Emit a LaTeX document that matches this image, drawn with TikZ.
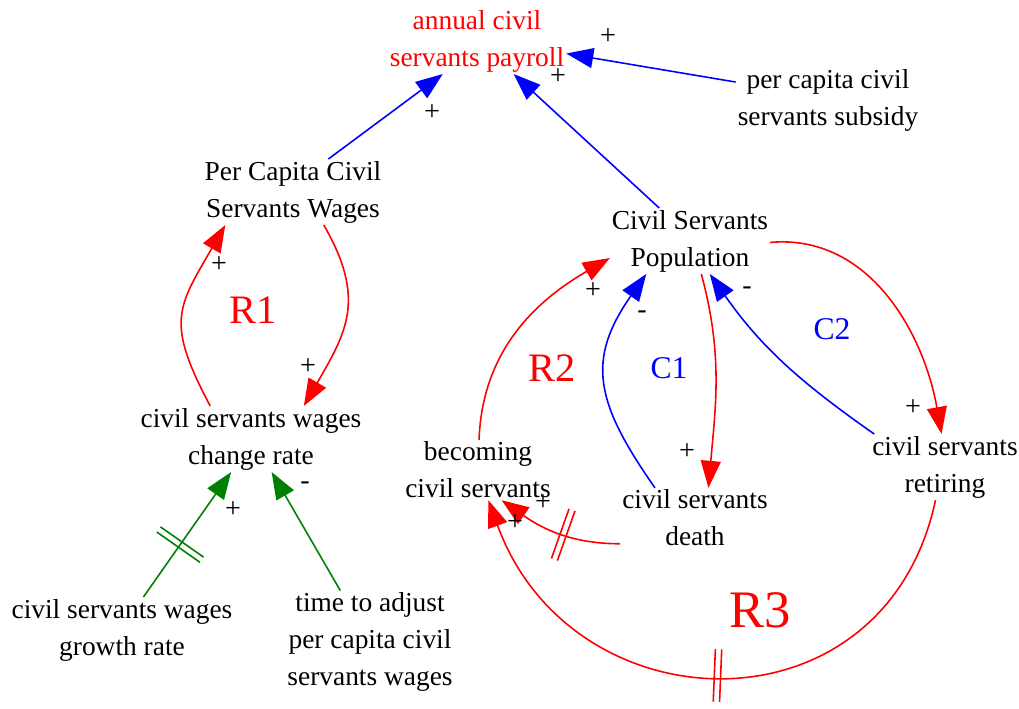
\documentclass[tikz,border=0pt]{standalone}
\usepackage{fontspec}
\setmainfont{Liberation Serif}
\usetikzlibrary{arrows.meta, decorations.markings}

\begin{document}
\begin{tikzpicture}[
    x=0.02cm, y=0.02cm,
    var/.style={align=center, inner sep=1pt, font=\fontsize{15.6}{21}\selectfont},
    sgn/.style={inner sep=0pt, font=\fontsize{16}{16}\selectfont},
    lbl/.style={inner sep=0pt, font=\fontsize{23}{23}\selectfont},
    link/.style={-{Triangle[length=0.54cm, width=0.40cm]}, line width=0.9pt},
    delay/.style={postaction={decorate, decoration={markings,
        mark=at position #1 with {\draw[-, line width=0.9pt] (-1.8pt,-15pt) -- (-1.8pt,15pt)
          (1.8pt,-15pt) -- (1.8pt,15pt);}}}}
]
\useasboundingbox (0,0) rectangle (1019,-708);

% variables
\node[var, red] (pay) at (477,-41) {annual civil\\servants payroll};
\node[var] (pcw) at (293,-192) {Per Capita Civil\\Servants Wages};
\node[var] (sub) at (828,-100) {per capita civil\\servants subsidy};
\node[var] (pop) at (690,-241) {Civil Servants\\Population};
\node[var] (chg) at (251,-439) {civil servants wages\\change rate};
\node[var] (grw) at (122,-630) {civil servants wages\\growth rate};
\node[var] (tim) at (370,-642) {time to adjust\\per capita civil\\servants wages};
\node[var] (bec) at (478,-470) {becoming\\civil servants};
\node[var] (dth) at (695,-518) {civil servants\\death};
\node[var] (ret) at (945,-467) {civil servants\\retiring};

% links
\draw[link, blue] (pcw.43) -- (pay.224);
\draw[link, blue] (pop.133) -- (pay.318);
\draw[link, blue] (sub.169) -- (pay.352);
\draw[link, red] (chg.141) to[out=118, in=240, looseness=1.35] (pcw.206);
\draw[link, red] (pcw.313) to[out=300, in=60, looseness=1.2] (chg.32);
\draw[link, green!50!black, delay=0.42] (grw.57) -- (chg.239);
\draw[link, green!50!black] (tim.120) -- (chg.302);
\draw[link, red] (bec.88) to[out=88, in=210] (pop.192);
\draw[link, blue] (dth.143) to[out=125, in=235, looseness=1.25] (pop.217);
\draw[link, red] (pop.289) to[out=285, in=85] (dth.66);
\draw[link, blue] (ret.155) to[out=145, in=-55] (pop.301);
\draw[link, red] (pop.359) to[out=5, in=100] (ret.96);
\draw[link, red, delay=0.45] (dth.199) to[out=180, in=-35] (bec.308);
\draw[link, red, delay=0.5] (ret.254) to[out=258, in=290, looseness=1.4] (bec.289);

% polarities
\node[sgn] (s1) at (432,-113) {+};
\node[sgn] (s2) at (558,-77) {+};
\node[sgn] (s3) at (608,-37) {+};
\node[sgn] (s4) at (219,-265) {+};
\node[sgn] (s5) at (308,-367) {+};
\node[sgn] (s6) at (233,-510) {+};
\node[sgn] (s7) at (305,-486) {-};
\node[sgn] (s8) at (593,-291) {+};
\node[sgn] (s9) at (642,-315) {-};
\node[sgn] (s10) at (747,-291) {-};
\node[sgn] (s11) at (687,-452) {+};
\node[sgn] (s12) at (543,-503) {+};
\node[sgn] (s13) at (515,-523) {+};
\node[sgn] (s14) at (913,-408) {+};

% loops
\node[lbl, red] (r1) at (253,-310) {R1};
\node[lbl, red] (r2) at (552,-368) {R2};
\node[lbl, blue, font=\fontsize{18}{18}\selectfont] (c1) at (669,-368) {C1};
\node[lbl, blue, font=\fontsize{18}{18}\selectfont] (c2) at (832,-329) {C2};
\node[lbl, red, font=\fontsize{30}{30}\selectfont] (r3) at (760,-610) {R3};
\end{tikzpicture}
\end{document}
